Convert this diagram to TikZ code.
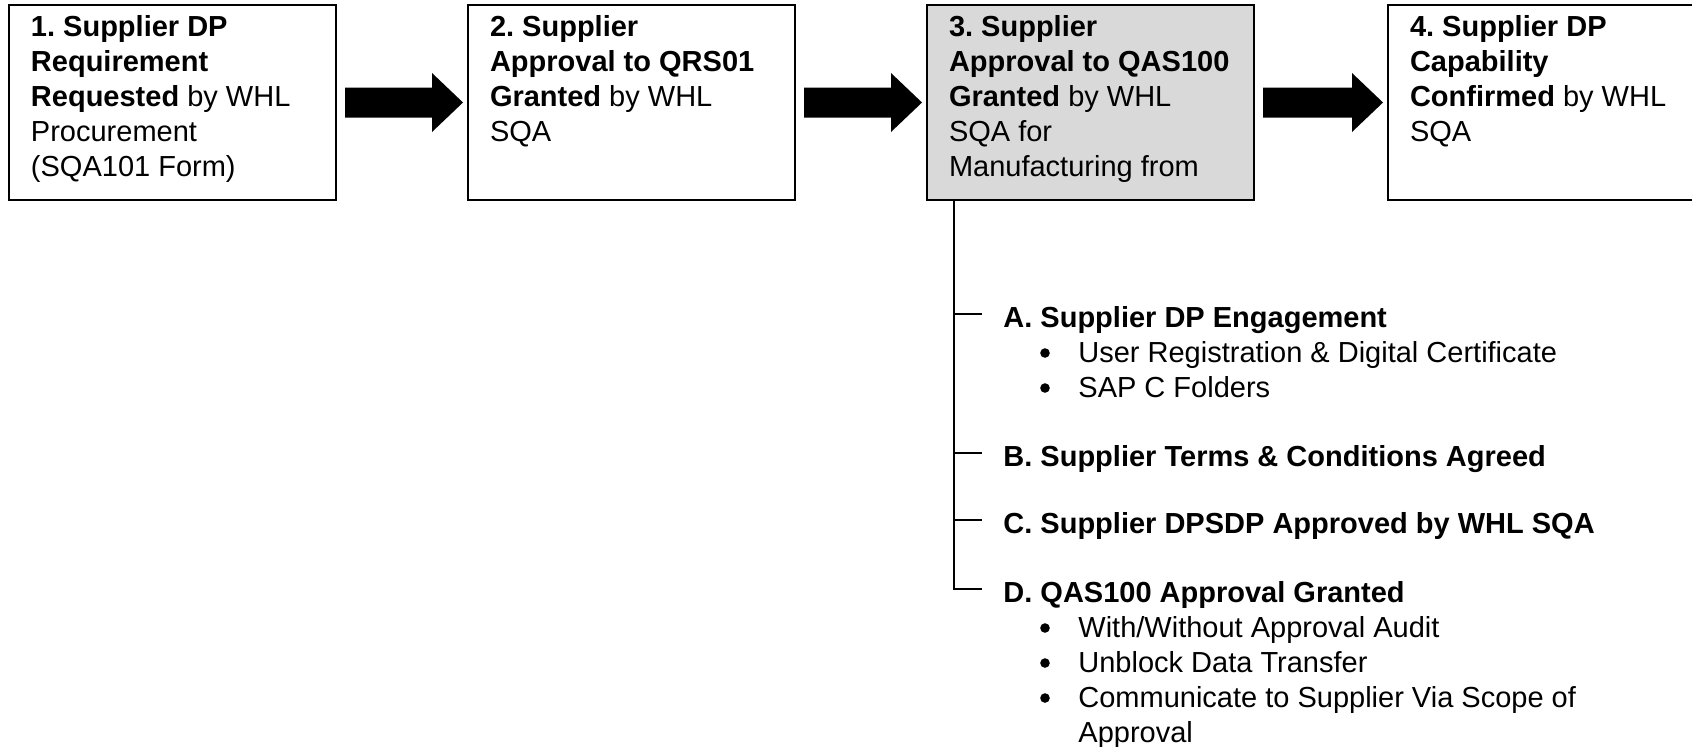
\documentclass[tikz,border=0pt]{standalone}
\usepackage{fontspec}
\setmainfont{Liberation Sans}
\usetikzlibrary{calc}
\frenchspacing
\definecolor{boxgray}{HTML}{D9D9D9}
\newcommand\boxtxt[1]{\begin{minipage}[t][97.5pt][t]{163.5pt}\raggedright\leftskip=11pt\frenchspacing\vspace*{3.25pt}\strut #1\end{minipage}}
\newcommand\fatarrow[2]{%
  \fill[black] ($(#1.east)+(8,-15)$) -- ($(#2.west)+(-35,-15)$) -- ($(#2.west)+(-35,-29.5)$)
   -- ($(#2.west)+(-4,0)$) -- ($(#2.west)+(-35,29.5)$) -- ($(#2.west)+(-35,15)$)
   -- ($(#1.east)+(8,15)$) -- cycle;}
\tikzset{
  txt/.style={font=\fontsize{14.5pt}{17.5pt}\selectfont},
  box/.style={txt, draw=black, line width=1pt, inner sep=0pt, anchor=north west},
  head/.style={txt, font=\fontsize{14.5pt}{17.5pt}\selectfont\bfseries, anchor=base west, inner sep=0pt},
  item/.style={txt, anchor=base west, inner sep=0pt},
  dot/.style={circle, fill=black, inner sep=0pt, minimum size=4.8pt},
  tree/.style={draw=black, line width=0.9pt}
}
\begin{document}
\begin{tikzpicture}[x=0.5pt,y=-0.5pt]
\useasboundingbox (0,0) rectangle (1692,746);
\clip (0,0) rectangle (1692,746);
\fill[white] (0,0) rectangle (1692,746);

\node[box] (b1) at (8,4) {\boxtxt{\textbf{1. Supplier DP}\\ \textbf{Requirement}\\ \textbf{Requested} by WHL\\ Procurement\\ (SQA101 Form)}};
\node[box] (b2) at (467,4) {\boxtxt{\textbf{2. Supplier}\\ \textbf{Approval to QRS01}\\ \textbf{Granted} by WHL\\ SQA}};
\node[box, fill=boxgray] (b3) at (926,4) {\boxtxt{\textbf{3. Supplier}\\ \textbf{Approval to QAS100}\\ \textbf{Granted} by WHL\\ SQA for\\ Manufacturing from}};
\node[box] (b4) at (1387,4) {\boxtxt{\textbf{4. Supplier DP}\\ \textbf{Capability}\\ \textbf{Confirmed} by WHL\\ SQA}};

\fatarrow{b1}{b2}
\fatarrow{b2}{b3}
\fatarrow{b3}{b4}

% tree items
\node[head] (ha) at (1003,327) {A. Supplier DP Engagement};
\node[item] (a1) at (1078,362) {User Registration \& Digital Certificate};
\node[item] (a2) at (1078,397) {SAP C Folders};
\node[head] (hb) at (1003,466) {B. Supplier Terms \& Conditions Agreed};
\node[head] (hc) at (1003,533) {C. Supplier DPSDP Approved by WHL SQA};
\node[head] (hd) at (1003,602) {D. QAS100 Approval Granted};
\node[item] (d1) at (1078,637) {With/Without Approval Audit};
\node[item] (d2) at (1078,672) {Unblock Data Transfer};
\node[item] (d3) at (1078,707) {Communicate to Supplier Via Scope of};
\node[item] (d3b) at (1078,742) {Approval};

\foreach \i in {a1,a2,d1,d2,d3}
  \node[dot] (dot-\i) at ($(\i.base west)+(-33,-9)$) {};

% tree connectors
\coordinate (trunk) at ($(b3.south west)+(28,0)$);
\coordinate (ta) at ($(ha.base west)+(-21,-13)$);
\coordinate (tb) at ($(hb.base west)+(-21,-13)$);
\coordinate (tc) at ($(hc.base west)+(-21,-13)$);
\coordinate (td) at ($(hd.base west)+(-21,-13)$);
\draw[tree] (trunk) |- (td);
\draw[tree] (trunk |- ta) -- (ta);
\draw[tree] (trunk |- tb) -- (tb);
\draw[tree] (trunk |- tc) -- (tc);
\end{tikzpicture}
\end{document}
